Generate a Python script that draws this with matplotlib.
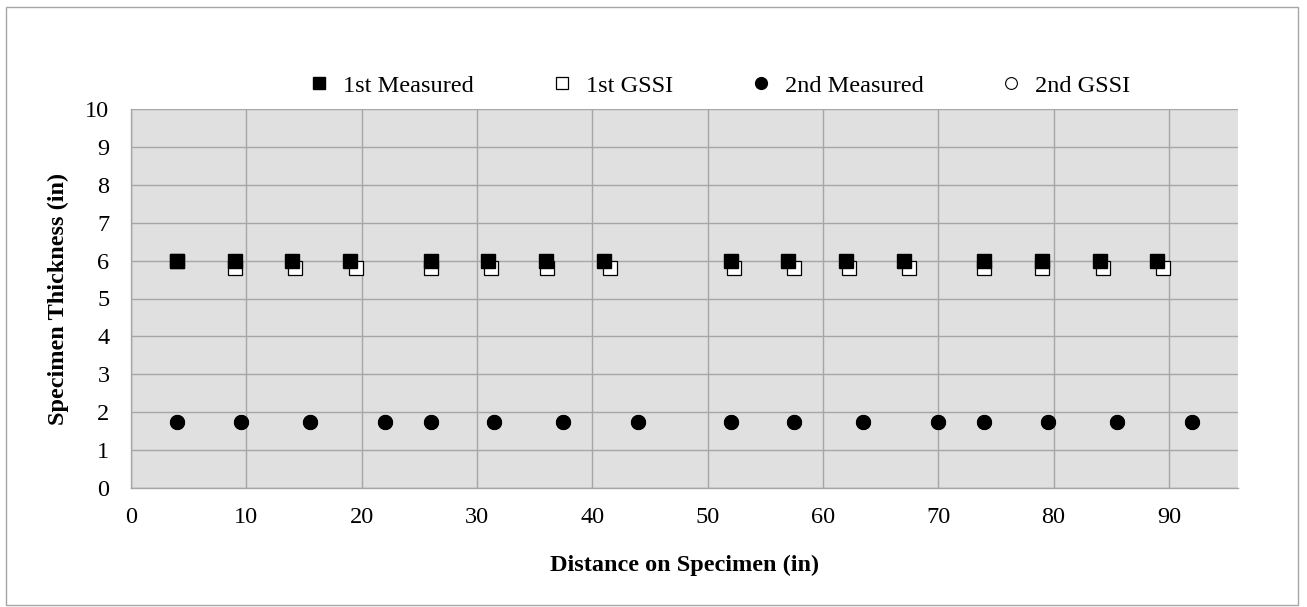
import matplotlib
matplotlib.use("Agg")
import matplotlib.pyplot as plt
from matplotlib.patches import Rectangle

plt.rcParams['font.family'] = ['Liberation Serif', 'DejaVu Serif']

# Data
first_x = [4, 9, 14, 19, 26, 31, 36, 41, 52, 57, 62, 67, 74, 79, 84, 89]
first_measured = [6.0] * 16
first_gssi_x = [4, 9, 14.25, 19.5, 26, 31.25, 36.1, 41.5, 52.25, 57.5, 62.25, 67.5, 74, 79, 84.25, 89.5]
first_gssi = [6.0, 5.8, 5.8, 5.8, 5.8, 5.8, 5.8, 5.8, 5.8, 5.8, 5.8, 5.8, 5.8, 5.8, 5.8, 5.8]
second_x = [4, 9.5, 15.5, 22, 26, 31.5, 37.5, 44, 52, 57.5, 63.5, 70, 74, 79.5, 85.5, 92]
second_measured = [1.75] * 16
second_gssi = [1.75] * 16

W, H = 1307, 607
fig = plt.figure(figsize=(W / 100, H / 100), dpi=100)
ax = fig.add_axes([131 / W, 1 - 488 / H, (1238 - 131) / W, (488 - 109) / H])
ax.set_facecolor('#e0e0e0')

fs = 17.5
ax.plot(second_x, second_gssi, linestyle='none', marker='o', markersize=10,
        markerfacecolor='white', markeredgecolor='black', markeredgewidth=0.8,
        label='2nd GSSI', zorder=3)
ax.plot(first_gssi_x, first_gssi, linestyle='none', marker='s', markersize=10,
        markerfacecolor='white', markeredgecolor='black', markeredgewidth=0.9,
        label='1st GSSI', zorder=3)
ax.plot(first_x, first_measured, linestyle='none', marker='s', markersize=10,
        markerfacecolor='black', markeredgecolor='black', label='1st Measured', zorder=4)
ax.plot(second_x, second_measured, linestyle='none', marker='o', markersize=10,
        markerfacecolor='black', markeredgecolor='black', label='2nd Measured', zorder=4)

ax.set_xlim(0, 96)
ax.set_ylim(0, 10)
ax.set_xticks(range(0, 91, 10))
ax.set_yticks(range(0, 11, 1))
ax.grid(True, color='#a6a6a6', linewidth=1.0)
ax.set_axisbelow(True)
for s in ['top', 'right']:
    ax.spines[s].set_visible(False)
for s in ['left', 'bottom']:
    ax.spines[s].set_color('#a6a6a6')
    ax.spines[s].set_linewidth(1.0)
ax.tick_params(length=0, labelsize=fs)
ax.tick_params(axis='x', pad=14)
ax.tick_params(axis='y', pad=15.5)

ax.set_xlabel('Distance on Specimen (in)', fontsize=fs, fontweight='bold', labelpad=19)
ax.set_ylabel('Specimen Thickness (in)', fontsize=fs, fontweight='bold', labelpad=12)

handles, labels = ax.get_legend_handles_labels()
order = ['1st Measured', '1st GSSI', '2nd Measured', '2nd GSSI']
hmap = dict(zip(labels, handles))
leg = ax.legend([hmap[k] for k in order], order, loc='lower center',
                bbox_to_anchor=(0.532, 0.975), ncol=4, frameon=False, fontsize=fs,
                handlelength=0.8, handletextpad=0.6, columnspacing=3.2,
                markerscale=0.85)

fig.patches.append(Rectangle((6 / W, 1 - 605 / H), (1298 - 6) / W, (605 - 7) / H,
                             transform=fig.transFigure, fill=False,
                             edgecolor='#a6a6a6', linewidth=1.0))

fig.savefig('out.png', dpi=100)
